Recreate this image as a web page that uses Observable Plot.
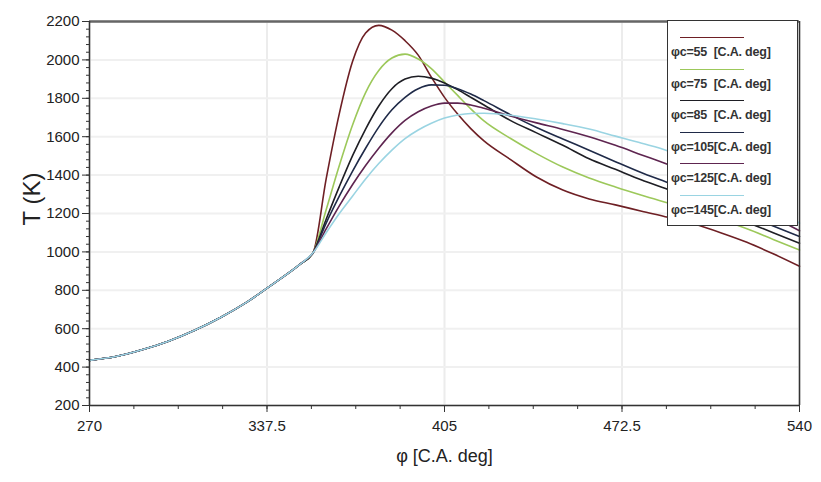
<!DOCTYPE html>
<html>
<head>
<meta charset="utf-8">
<script src="https://cdn.jsdelivr.net/npm/d3@7"></script>
<script src="https://cdn.jsdelivr.net/npm/@observablehq/plot@0.6"></script>
<style>
  html, body { margin: 0; padding: 0; background: #fff; }
  #wrap { position: relative; width: 821px; height: 482px; }
  #legend { position: absolute; left: 667px; top: 20px; width: 131px; height: 206px;
    background: #fff; border: 1.5px solid #333; box-sizing: border-box;
    font-family: "Liberation Sans", Arial, sans-serif; font-size: 12.5px; font-weight: bold; color: #333; }
  .entry { position: absolute; left: 0; width: 100%; }
  .entry .sample { position: absolute; left: 12px; width: 64px; height: 0; border-top: 1.6px solid; }
  .entry .lbl { position: absolute; left: 3px; top: 8px; white-space: pre; letter-spacing: -0.2px; }
</style>
</head>
<body>
<div id="wrap"><div id="chart"></div><div id="legend"></div></div>
<script>
// Shared compression segment (crank angle, temperature)
const phiBase = [270, 280, 290, 300, 310, 320, 330, 340, 350, 355];
const TBase   = [435, 455, 490, 535, 592, 660, 740, 835, 935, 995];

// Combustion/expansion sample angles
const phiComb = [360, 365, 370, 375, 380, 385, 390, 395, 400, 405, 410, 415, 420, 430, 440, 450, 460, 470, 480, 490, 500, 510, 520, 530, 540];

const seriesNames  = ["φc=55  [C.A. deg]", "φc=75  [C.A. deg]", "φc=85  [C.A. deg]", "φc=105[C.A. deg]", "φc=125[C.A. deg]", "φc=145[C.A. deg]"];
const seriesColors = ["#6e1f24", "#9cc85a", "#1e1e24", "#1f2a48", "#5e2550", "#9ad4e2"];

const T55  = [1380, 1720, 1990, 2140, 2180, 2155, 2100, 2025, 1910, 1805, 1718, 1642, 1578, 1482, 1390, 1322, 1276, 1245, 1212, 1180, 1145, 1100, 1050, 990, 925];
const T75  = [1220, 1450, 1660, 1830, 1945, 2010, 2030, 2005, 1955, 1885, 1815, 1745, 1682, 1592, 1512, 1442, 1385, 1338, 1295, 1255, 1215, 1170, 1120, 1065, 1010];
const T85  = [1170, 1340, 1500, 1640, 1760, 1850, 1900, 1915, 1905, 1880, 1845, 1805, 1765, 1685, 1620, 1555, 1485, 1430, 1375, 1325, 1270, 1210, 1155, 1100, 1045];
const T105 = [1150, 1290, 1420, 1540, 1650, 1740, 1805, 1850, 1870, 1868, 1850, 1822, 1788, 1715, 1648, 1588, 1530, 1470, 1412, 1360, 1302, 1245, 1190, 1135, 1080];
const T125 = [1120, 1240, 1350, 1450, 1540, 1620, 1685, 1730, 1760, 1775, 1775, 1765, 1748, 1708, 1672, 1638, 1600, 1555, 1505, 1455, 1395, 1325, 1255, 1182, 1110];
const T145 = [1100, 1200, 1290, 1380, 1460, 1530, 1590, 1635, 1670, 1697, 1713, 1721, 1722, 1712, 1692, 1668, 1640, 1603, 1566, 1526, 1465, 1385, 1305, 1225, 1150];
const seriesT = [T55, T75, T85, T105, T125, T145];

const xTicks = [270, 337.5, 405, 472.5, 540];
const yTicks = [200, 400, 600, 800, 1000, 1200, 1400, 1600, 1800, 2000, 2200];

const data = [];
seriesNames.forEach((name, i) => {
  phiBase.forEach((p, j) => data.push({series: name, phi: p, T: TBase[j]}));
  phiComb.forEach((p, j) => data.push({series: name, phi: p, T: seriesT[i][j]}));
});

const xMinor = d3.range(270, 540.001, 16.875);
const yMinor = d3.range(200, 2200.001, 40);

const chart = Plot.plot({
  width: 821,
  height: 482,
  marginLeft: 89,
  marginRight: 22,
  marginTop: 21,
  marginBottom: 77,
  style: {fontFamily: "'Liberation Sans Narrow', 'Liberation Sans', Arial, sans-serif", fontSize: "15px", color: "#222", background: "#fff"},
  x: {domain: [270, 540], label: null},
  y: {domain: [200, 2200], label: null},
  color: {domain: seriesNames, range: seriesColors},
  marks: [
    Plot.gridX(xTicks, {stroke: "#ececec", strokeOpacity: 1, strokeWidth: 2}),
    Plot.gridY(yTicks, {stroke: "#f0f0f0", strokeOpacity: 1, strokeWidth: 2}),
    Plot.line(data, {x: "phi", y: "T", z: "series", stroke: "series", strokeWidth: 1.6, curve: "monotone-x"}),
    Plot.ruleY([2200], {stroke: "#666", strokeWidth: 2.5}),
    Plot.ruleX([540], {stroke: "#333", strokeWidth: 1.5}),
    Plot.ruleX([270], {stroke: "#333", strokeWidth: 1.5}),
    Plot.ruleY([200], {stroke: "#333", strokeWidth: 1.5}),
    Plot.axisX(xMinor, {tickSize: 4, text: null, stroke: "#333"}),
    Plot.axisY(yMinor, {tickSize: 3, text: null, stroke: "#333"}),
    Plot.axisX(xTicks, {tickSize: 7, tickPadding: 8, tickFormat: d => String(d), fontSize: 15, stroke: "#333"}),
    Plot.axisY(yTicks, {tickSize: 7, tickPadding: 3, tickFormat: d => String(d), fontSize: 15, stroke: "#333"}),
    Plot.text(["T (K)"], {frameAnchor: "left", dx: -57, dy: 12, rotate: -90, fontSize: 24, fill: "#222"}),
    Plot.text(["φ [C.A. deg]"], {frameAnchor: "bottom", dx: 0, dy: 56, fontSize: 18, fill: "#222"})
  ]
});
document.getElementById("chart").appendChild(chart);

// Legend (built from the series arrays)
const legend = document.getElementById("legend");
seriesNames.forEach((name, i) => {
  const e = document.createElement("div");
  e.className = "entry";
  e.style.top = (16 + i * 31.5) + "px";
  const s = document.createElement("div");
  s.className = "sample";
  s.style.borderTopColor = seriesColors[i];
  const t = document.createElement("div");
  t.className = "lbl";
  t.textContent = name;
  e.appendChild(s); e.appendChild(t);
  legend.appendChild(e);
});
</script>
</body>
</html>
